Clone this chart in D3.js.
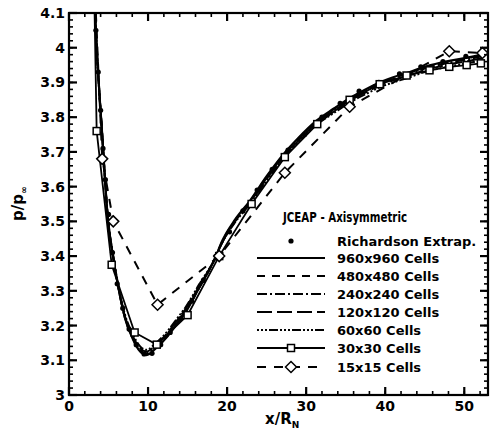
<!DOCTYPE html>
<html><head><meta charset="utf-8">
<script src="https://cdn.jsdelivr.net/npm/d3@7"></script>
<style>
html,body{margin:0;padding:0;background:#fff;}
text{font-family:"DejaVu Sans",sans-serif;font-weight:bold;fill:#000;}
</style></head>
<body>
<svg id="chart" width="494" height="434"></svg>
<script>
// ---- data ----
const xTicks = [0, 10, 20, 30, 40, 50];
const yTicks = [3, 3.1, 3.2, 3.3, 3.4, 3.5, 3.6, 3.7, 3.8, 3.9, 4, 4.1];
const yTickLabels = ["3", "3.1", "3.2", "3.3", "3.4", "3.5", "3.6", "3.7", "3.8", "3.9", "4", "4.1"];

const fineX   = [3.3, 3.6, 3.9, 4.2, 4.5, 4.8, 5.1, 5.5, 6.0, 6.5, 7.1, 8.0, 9.0, 9.8, 11.0, 12.5, 13.5, 14.8, 16.5, 18.4, 19.4, 21.0, 22.9, 25.0, 27.0, 29.0, 31.3, 33.5, 35.5, 37.5, 39.3, 41.0, 42.7, 45.0, 48.1, 50.5, 52.5];
const y960    = [4.10, 3.96, 3.85, 3.75, 3.64, 3.54, 3.47, 3.41, 3.34, 3.28, 3.22, 3.165, 3.125, 3.115, 3.135, 3.17, 3.20, 3.24, 3.31, 3.39, 3.445, 3.505, 3.56, 3.63, 3.69, 3.74, 3.79, 3.825, 3.855, 3.88, 3.90, 3.915, 3.927, 3.945, 3.962, 3.972, 3.982];
const y480    = [4.10, 3.96, 3.85, 3.75, 3.64, 3.54, 3.47, 3.41, 3.34, 3.28, 3.22, 3.167, 3.127, 3.117, 3.137, 3.172, 3.202, 3.242, 3.31, 3.39, 3.443, 3.503, 3.558, 3.628, 3.688, 3.738, 3.788, 3.823, 3.853, 3.878, 3.898, 3.913, 3.925, 3.943, 3.96, 3.97, 3.98];
const y240    = [4.10, 3.96, 3.85, 3.75, 3.64, 3.54, 3.47, 3.41, 3.34, 3.28, 3.222, 3.168, 3.13, 3.12, 3.14, 3.175, 3.205, 3.245, 3.31, 3.39, 3.44, 3.50, 3.555, 3.625, 3.685, 3.735, 3.785, 3.82, 3.85, 3.875, 3.895, 3.91, 3.922, 3.94, 3.957, 3.967, 3.977];
const y120    = [4.10, 3.96, 3.85, 3.75, 3.64, 3.54, 3.47, 3.41, 3.34, 3.28, 3.225, 3.172, 3.135, 3.125, 3.145, 3.18, 3.21, 3.25, 3.315, 3.39, 3.44, 3.50, 3.553, 3.622, 3.682, 3.732, 3.782, 3.817, 3.847, 3.871, 3.891, 3.906, 3.918, 3.935, 3.952, 3.962, 3.972];
const y60     = [4.10, 3.96, 3.85, 3.75, 3.64, 3.545, 3.475, 3.415, 3.345, 3.285, 3.23, 3.178, 3.14, 3.13, 3.15, 3.185, 3.215, 3.255, 3.32, 3.39, 3.44, 3.497, 3.55, 3.618, 3.678, 3.728, 3.778, 3.812, 3.842, 3.866, 3.886, 3.9, 3.912, 3.93, 3.946, 3.956, 3.965];

const x30 = [3.2, 3.5, 5.4, 8.3, 11.1, 15.0, 19.0, 23.1, 27.3, 31.4, 35.5, 39.3, 42.7, 45.6, 48.1, 50.3, 52.1];
const y30 = [4.15, 3.76, 3.375, 3.18, 3.145, 3.23, 3.40, 3.55, 3.685, 3.78, 3.85, 3.895, 3.92, 3.935, 3.945, 3.95, 3.955];

const x15 = [3.3, 4.2, 5.6, 11.2, 19.0, 27.3, 35.5, 48.1, 52.3];
const y15 = [4.15, 3.68, 3.50, 3.26, 3.40, 3.64, 3.83, 3.99, 3.985];

const richX = [3.4, 3.7, 4.0, 4.3, 4.6, 5.0, 5.5, 6.1, 6.8, 7.6, 8.5, 9.5, 10.5, 11.6, 12.8, 14.1, 15.5, 17.0, 18.6, 20.3, 22.0, 23.8, 25.7, 27.7, 29.8, 32.0, 34.3, 36.7, 39.2, 41.8, 44.5, 47.3, 50.2];
const richY = [4.05, 3.93, 3.82, 3.71, 3.62, 3.52, 3.41, 3.32, 3.25, 3.19, 3.145, 3.118, 3.12, 3.145, 3.18, 3.22, 3.27, 3.33, 3.40, 3.47, 3.53, 3.59, 3.65, 3.705, 3.75, 3.80, 3.84, 3.875, 3.90, 3.925, 3.945, 3.96, 3.975];

const seriesNames = ["Richardson Extrap.", "960x960 Cells", "480x480 Cells", "240x240 Cells", "120x120 Cells", "60x60 Cells", "30x30 Cells", "15x15 Cells"];
const legendTitle = "JCEAP - Axisymmetric";

// ---- layout ----
const svg = d3.select("#chart");
const L = 69, R = 488, T = 13, B = 395;
const x = d3.scaleLinear().domain([0, 53]).range([L, R]);
const y = d3.scaleLinear().domain([3, 4.1]).range([B, T]);

svg.append("defs").append("clipPath").attr("id", "clip")
  .append("rect").attr("x", L).attr("y", T).attr("width", R - L).attr("height", B - T);

const styles = [
  null,
  {dash: null, w: 2.2},
  {dash: "8,7", w: 2},
  {dash: "10,3,2,3", w: 2},
  {dash: "15,5", w: 2},
  {dash: "2,2,2,2,2,2,9,2", w: 2},
  {dash: null, w: 1.8, marker: "square"},
  {dash: "9,8", w: 2, marker: "diamond"}
];

const smoothGen = d3.line().curve(d3.curveMonotoneX);
const straightGen = d3.line();
const plot = svg.append("g").attr("clip-path", "url(#clip)");

function drawLine(xs, ys, st, gen) {
  const pts = xs.map((v, i) => [x(v), y(ys[i])]);
  plot.append("path").attr("d", gen(pts)).attr("fill", "none")
    .attr("stroke", "#000").attr("stroke-width", st.w)
    .attr("stroke-dasharray", st.dash);
}
function marker(g, type, cx, cy) {
  if (type === "square") {
    g.append("rect").attr("x", cx - 3.5).attr("y", cy - 3.5).attr("width", 7).attr("height", 7)
      .attr("fill", "#fff").attr("stroke", "#000").attr("stroke-width", 1.5);
  } else if (type === "diamond") {
    g.append("path").attr("d", `M${cx},${cy - 5.5}L${cx + 5.5},${cy}L${cx},${cy + 5.5}L${cx - 5.5},${cy}Z`)
      .attr("fill", "#fff").attr("stroke", "#000").attr("stroke-width", 1.5);
  } else if (type === "dot") {
    g.append("circle").attr("cx", cx).attr("cy", cy).attr("r", 2.6).attr("fill", "#000");
  }
}

drawLine(fineX, y60, styles[5], smoothGen);
drawLine(fineX, y120, styles[4], smoothGen);
drawLine(fineX, y240, styles[3], smoothGen);
drawLine(fineX, y480, styles[2], smoothGen);
drawLine(fineX, y960, styles[1], smoothGen);
drawLine(x30, y30, styles[6], straightGen);
drawLine(x15, y15, styles[7], straightGen);
richX.forEach((v, i) => marker(plot, "dot", x(v), y(richY[i])));
x30.forEach((v, i) => { if (y30[i] <= 4.1) marker(plot, "square", x(v), y(y30[i])); });
x15.forEach((v, i) => { if (y15[i] <= 4.1) marker(plot, "diamond", x(v), y(y15[i])); });

// ---- axes ----
const axG = svg.append("g");
axG.append("rect").attr("x", L).attr("y", T).attr("width", R - L).attr("height", B - T)
  .attr("fill", "none").attr("stroke", "#000").attr("stroke-width", 2.2);

const xMinor = d3.range(0, 53.01, 2);
const yMinor = d3.range(3, 4.1001, 0.02);
function ticks(len, vals, isX, w) {
  vals.forEach(v => {
    if (isX) {
      const px = x(v);
      axG.append("line").attr("x1", px).attr("x2", px).attr("y1", B).attr("y2", B - len).attr("stroke", "#000").attr("stroke-width", w);
      axG.append("line").attr("x1", px).attr("x2", px).attr("y1", T).attr("y2", T + len).attr("stroke", "#000").attr("stroke-width", w);
    } else {
      const py = y(v);
      axG.append("line").attr("x1", L).attr("x2", L + len).attr("y1", py).attr("y2", py).attr("stroke", "#000").attr("stroke-width", w);
      axG.append("line").attr("x1", R).attr("x2", R - len).attr("y1", py).attr("y2", py).attr("stroke", "#000").attr("stroke-width", w);
    }
  });
}
ticks(4, xMinor, true, 1.6);
ticks(8, xTicks, true, 2.2);
ticks(4, yMinor, false, 1.6);
ticks(8, yTicks, false, 2.2);

xTicks.forEach(v => {
  axG.append("text").attr("x", x(v)).attr("y", 411).attr("text-anchor", "middle")
    .attr("font-size", 14).text(v);
});
yTicks.forEach((v, i) => {
  axG.append("text").attr("x", L - 4).attr("y", y(v) + 5).attr("text-anchor", "end")
    .attr("font-size", 14).text(yTickLabels[i]);
});

// axis titles
const xt = svg.append("text").attr("x", 265).attr("y", 424).attr("font-size", 15);
xt.append("tspan").text("x/R");
xt.append("tspan").attr("font-size", 9).attr("dy", 4).text("N");

const yt = svg.append("text").attr("transform", "translate(23,221) rotate(-90)").attr("font-size", 15);
yt.append("tspan").text("p/p");
yt.append("tspan").attr("font-size", 9).attr("dy", 4).text("∞");

// ---- legend ----
const lg = svg.append("g");
lg.append("text").attr("x", 283).attr("y", 222).attr("font-size", 14)
  .attr("font-family", "Liberation Sans, Arial, sans-serif")
  .attr("textLength", 124).attr("lengthAdjust", "spacingAndGlyphs").text(legendTitle);
const rowY = [241, 258, 276, 294, 312, 330, 348, 367];
seriesNames.forEach((name, i) => {
  const ry = rowY[i];
  if (i === 0) {
    marker(lg, "dot", 291, ry);
  } else {
    const st = styles[i];
    lg.append("line").attr("x1", 257).attr("x2", 325).attr("y1", ry).attr("y2", ry)
      .attr("stroke", "#000").attr("stroke-width", st.w).attr("stroke-dasharray", st.dash);
    if (st.marker) marker(lg, st.marker, 291, ry);
  }
  lg.append("text").attr("x", 337).attr("y", ry + 5).attr("font-size", 13).text(name);
});
</script>
</body></html>
